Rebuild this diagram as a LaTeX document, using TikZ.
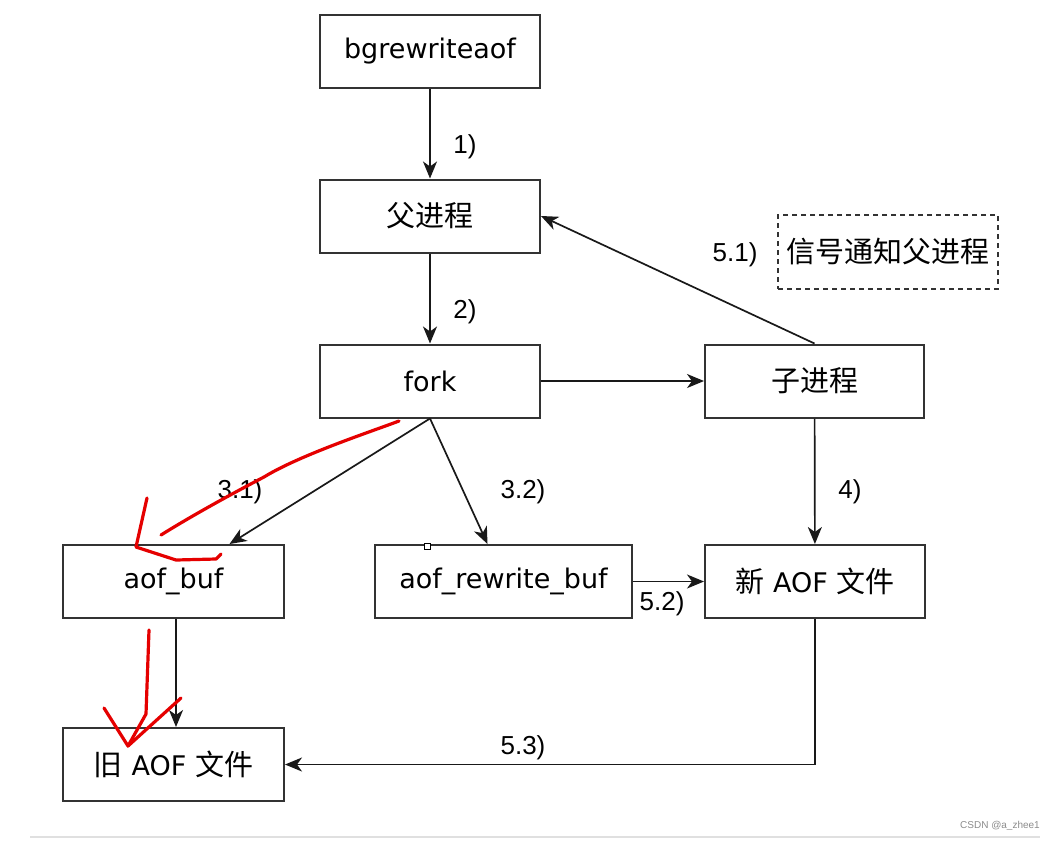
\documentclass[tikz,border=0pt]{standalone}
\usepackage{fontspec}
\setmainfont{Liberation Sans}
\newfontfamily\cjk{Noto Sans CJK SC}
\newfontfamily\boxfont{DejaVu Sans}
\usetikzlibrary{arrows.meta,calc}
\begin{document}
\begin{tikzpicture}[x=1pt,y=-1pt,
  box/.style={draw=black!80,line width=2pt,minimum width=220pt,minimum height=73pt,inner sep=0pt,fill=white},
  btxt/.style={font=\boxfont\fontsize{27}{32}\selectfont},
  ctxt/.style={font=\cjk\fontsize{29}{34}\selectfont},
  mtxt/.style={font=\fontsize{29}{34}\selectfont},
  lbl/.style={font=\fontsize{26}{30}\selectfont,inner sep=0pt},
  arr/.style={line width=1.7pt,draw=black!90,-{Stealth[length=17pt,width=14pt,inset=5pt]}},
  red/.style={draw=red!90!black,line width=3.2pt,line cap=round,line join=round}]
\useasboundingbox (0,0) rectangle (1056,841);
\fill[white] (0,0) rectangle (1056,841);

\node[box,btxt] (bg) at (430,51.5) {bgrewriteaof};
\node[box,ctxt] (fu) at (430,216) {父进程};
\node[draw=black!80,line width=1.5pt,dash pattern=on 5pt off 4pt,minimum width=220pt,minimum height=74pt,inner sep=0pt,ctxt] (sig) at (888,252) {信号通知父进程};
\node[box,btxt] (fork) at (430,381) {fork};
\node[box,ctxt,minimum width=219pt] (zi) at (814.5,381) {子进程};
\node[box,btxt,minimum width=221pt] (ab) at (173.5,581.5) {aof\_buf};
\node[box,btxt,minimum width=257pt] (rb) at (503.5,581.5) {aof\_rewrite\_buf};
\node[box,mtxt,minimum width=220pt] (new) at (815,581.5) {{\cjk 新}\hspace{9pt}{\boxfont\fontsize{27}{32}\selectfont AOF}\hspace{9pt}{\cjk 文件}};
\node[box,mtxt,minimum width=221pt] (old) at (173.5,764.5) {{\cjk 旧}\hspace{9pt}{\boxfont\fontsize{27}{32}\selectfont AOF}\hspace{9pt}{\cjk 文件}};

\draw[arr] (bg) -- (fu);
\draw[arr] (fu) -- (fork);
\draw[arr] (fork) -- (zi);
\draw[arr] (zi.north) -- (fu.east);
\draw[arr] (fork.south) -- ($(ab.north)+(56,0)$);
\draw[arr] (fork.south) -- ($(rb.north)+(-16,0)$);
\draw[arr] (zi) -- (new);
\draw[arr] (rb) -- (new);
\draw[arr] ($(ab.south)+(2.5,0)$) -- ($(old.north)+(2.5,0)$);
\draw[arr] (new.south) |- (old.east);

\node[lbl] (l1) at (465,147) {1)};
\node[lbl] (l2) at (465,312) {2)};
\node[lbl] (l51) at (735,255) {5.1)};
\node[lbl] (l31) at (240,492) {3.1)};
\node[lbl] (l32) at (523,492) {3.2)};
\node[lbl] (l4) at (850,492) {4)};
\node[lbl] (l52) at (662,604) {5.2)};
\node[lbl] (l53) at (523,748) {5.3)};

% selection handle
\node[draw=black,fill=white,line width=0.8pt,minimum size=6pt,inner sep=0pt] (h) at (427,546) {};

% red hand annotations
\draw[red] (399,421) .. controls (370,432) and (300,455) .. (264,477) .. controls (220,500) and (185,520) .. (161,535);
\draw[red] (147,498) -- (136,547) -- (176,560) -- (216,559) -- (221,554);
\draw[red] (149,630) -- (146,714) -- (128,746);
\draw[red] (104,708) -- (128,746) -- (181,698);

% footer
\draw[black!12,line width=2pt] (30,837) -- (1040,837);
\node[text=black!45,font=\fontsize{10}{12}\selectfont,anchor=east,inner sep=0pt] (wm) at (1040,826) {CSDN @a\_zhee1};
\end{tikzpicture}
\end{document}
